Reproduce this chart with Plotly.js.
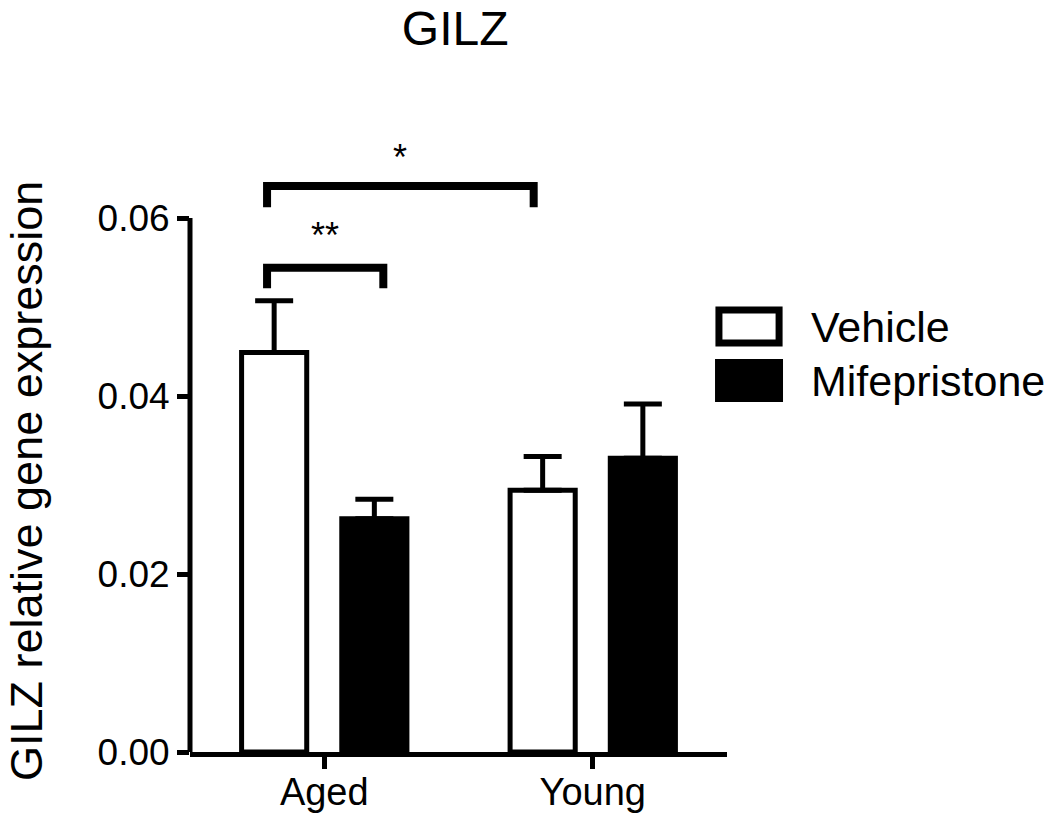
<!DOCTYPE html>
<html>
<head>
<meta charset="utf-8">
<script src="https://cdn.plot.ly/plotly-3.0.1.min.js"></script>
<style>html,body{margin:0;padding:0;background:#fff;}#chart{width:1050px;height:814px;}</style>
</head>
<body>
<div id="chart"></div>
<script>
// ---- data ----
const categories = ['Aged', 'Young'];
const seriesNames = ['Vehicle', 'Mifepristone'];
const vehicleMean = [0.0449, 0.0294];
const vehicleSem = [0.0058, 0.0038];
const mifeMean = [0.0262, 0.0330];
const mifeSem = [0.0022, 0.0061];
const yTickVals = [0, 0.02, 0.04, 0.06];
const yTickText = ['0.00', '0.02', '0.04', '0.06'];
// significance brackets: [x start, x end] in category index, bracket height, leg bottom, label
const bracketX0 = [-0.213, -0.213];
const bracketX1 = [0.220, 0.780];
const bracketY = [0.0544, 0.0636];
const bracketLegY = [0.0521, 0.0612];
const bracketLabelY = [0.0580, 0.0668];
const bracketLabels = ['**', '*'];

const FONT = 'Liberation Sans, Arial, sans-serif';
const zeros = categories.map(() => 0);

const traces = [
  {
    type: 'bar', name: seriesNames[0], x: categories, y: vehicleMean,
    marker: {color: '#ffffff', line: {color: '#000000', width: 5}},
    error_y: {type: 'data', symmetric: false, array: vehicleSem, arrayminus: zeros,
              color: '#000000', thickness: 5, width: 19},
    showlegend: false
  },
  {
    type: 'bar', name: seriesNames[1], x: categories, y: mifeMean,
    marker: {color: '#000000', line: {color: '#000000', width: 5}},
    error_y: {type: 'data', symmetric: false, array: mifeSem, arrayminus: zeros,
              color: '#000000', thickness: 5, width: 19},
    showlegend: false
  }
];

const shapes = [];
const annotations = [];

// y axis line from 0 to top tick
shapes.push({type: 'line', xref: 'paper', yref: 'y', x0: 0, x1: 0,
  y0: yTickVals[0], y1: yTickVals[yTickVals.length - 1],
  line: {color: '#000', width: 5}});

bracketLabels.forEach((lab, i) => {
  const x0 = bracketX0[i], x1 = bracketX1[i], y = bracketY[i], yl = bracketLegY[i];
  shapes.push({type: 'path', xref: 'x', yref: 'y',
    path: `M ${x0},${yl} L ${x0},${y} L ${x1},${y} L ${x1},${yl}`,
    line: {color: '#000', width: 8}});
  annotations.push({xref: 'x', yref: 'y', x: (x0 + x1) / 2, y: bracketLabelY[i],
    text: lab, showarrow: false, font: {family: FONT, size: 36, color: '#000'},
    xanchor: 'center', yanchor: 'middle'});
});

// legend (drawn manually to match the large boxes)
const legendFill = ['#ffffff', '#000000'];
const legendBoxes = [
  {x0: 0.985, x1: 1.097, y0: 0.6565, y1: 0.7095, w: 7},
  {x0: 0.9777, x1: 1.1043, y0: 0.5618, y1: 0.6308, w: 0}
];
const legendTextY = [0.6822, 0.5955];
seriesNames.forEach((n, i) => {
  const b = legendBoxes[i];
  shapes.push({type: 'rect', xref: 'paper', yref: 'paper', x0: b.x0, x1: b.x1, y0: b.y0, y1: b.y1,
    fillcolor: legendFill[i], line: {color: '#000', width: b.w}});
  annotations.push({xref: 'paper', yref: 'paper', x: 1.1527, y: legendTextY[i], text: n,
    showarrow: false, xanchor: 'left', yanchor: 'middle',
    font: {family: FONT, size: 43, color: '#000'}});
});

// y axis title
annotations.push({xref: 'paper', yref: 'paper', x: -0.3035, y: 0.435,
  text: 'GILZ relative gene expression', textangle: -90, showarrow: false,
  xanchor: 'center', yanchor: 'middle', font: {family: FONT, size: 45, color: '#000'}});

const layout = {
  width: 1050, height: 814,
  margin: {l: 190, r: 323, t: 129, b: 62, pad: 0},
  paper_bgcolor: '#ffffff', plot_bgcolor: '#ffffff',
  font: {family: FONT, color: '#000'},
  title: {text: 'GILZ', x: 0.4335, xref: 'container', y: 0.965, yref: 'container',
          xanchor: 'center', yanchor: 'middle', font: {family: FONT, size: 48, color: '#000'}},
  barmode: 'group', bargap: 0.2537, bargroupgap: 0.35,
  xaxis: {type: 'category', range: [-0.5, 1.5], showline: true, linecolor: '#000', linewidth: 5,
          ticks: 'outside', ticklen: 12, tickwidth: 5, tickcolor: '#000',
          ticklabelstandoff: -10,
          showgrid: false, zeroline: false, fixedrange: true,
          tickfont: {family: FONT, size: 38, color: '#000'}},
  yaxis: {range: [0, 0.07], showline: false, showgrid: false, zeroline: false,
          tickvals: yTickVals, ticktext: yTickText, ticks: 'outside', ticklen: 12, tickwidth: 5,
          tickcolor: '#000', fixedrange: true,
          tickfont: {family: FONT, size: 37, color: '#000'}},
  shapes: shapes,
  annotations: annotations,
  showlegend: false
};

Plotly.newPlot('chart', traces, layout, {staticPlot: true, displayModeBar: false});
</script>
</body>
</html>
